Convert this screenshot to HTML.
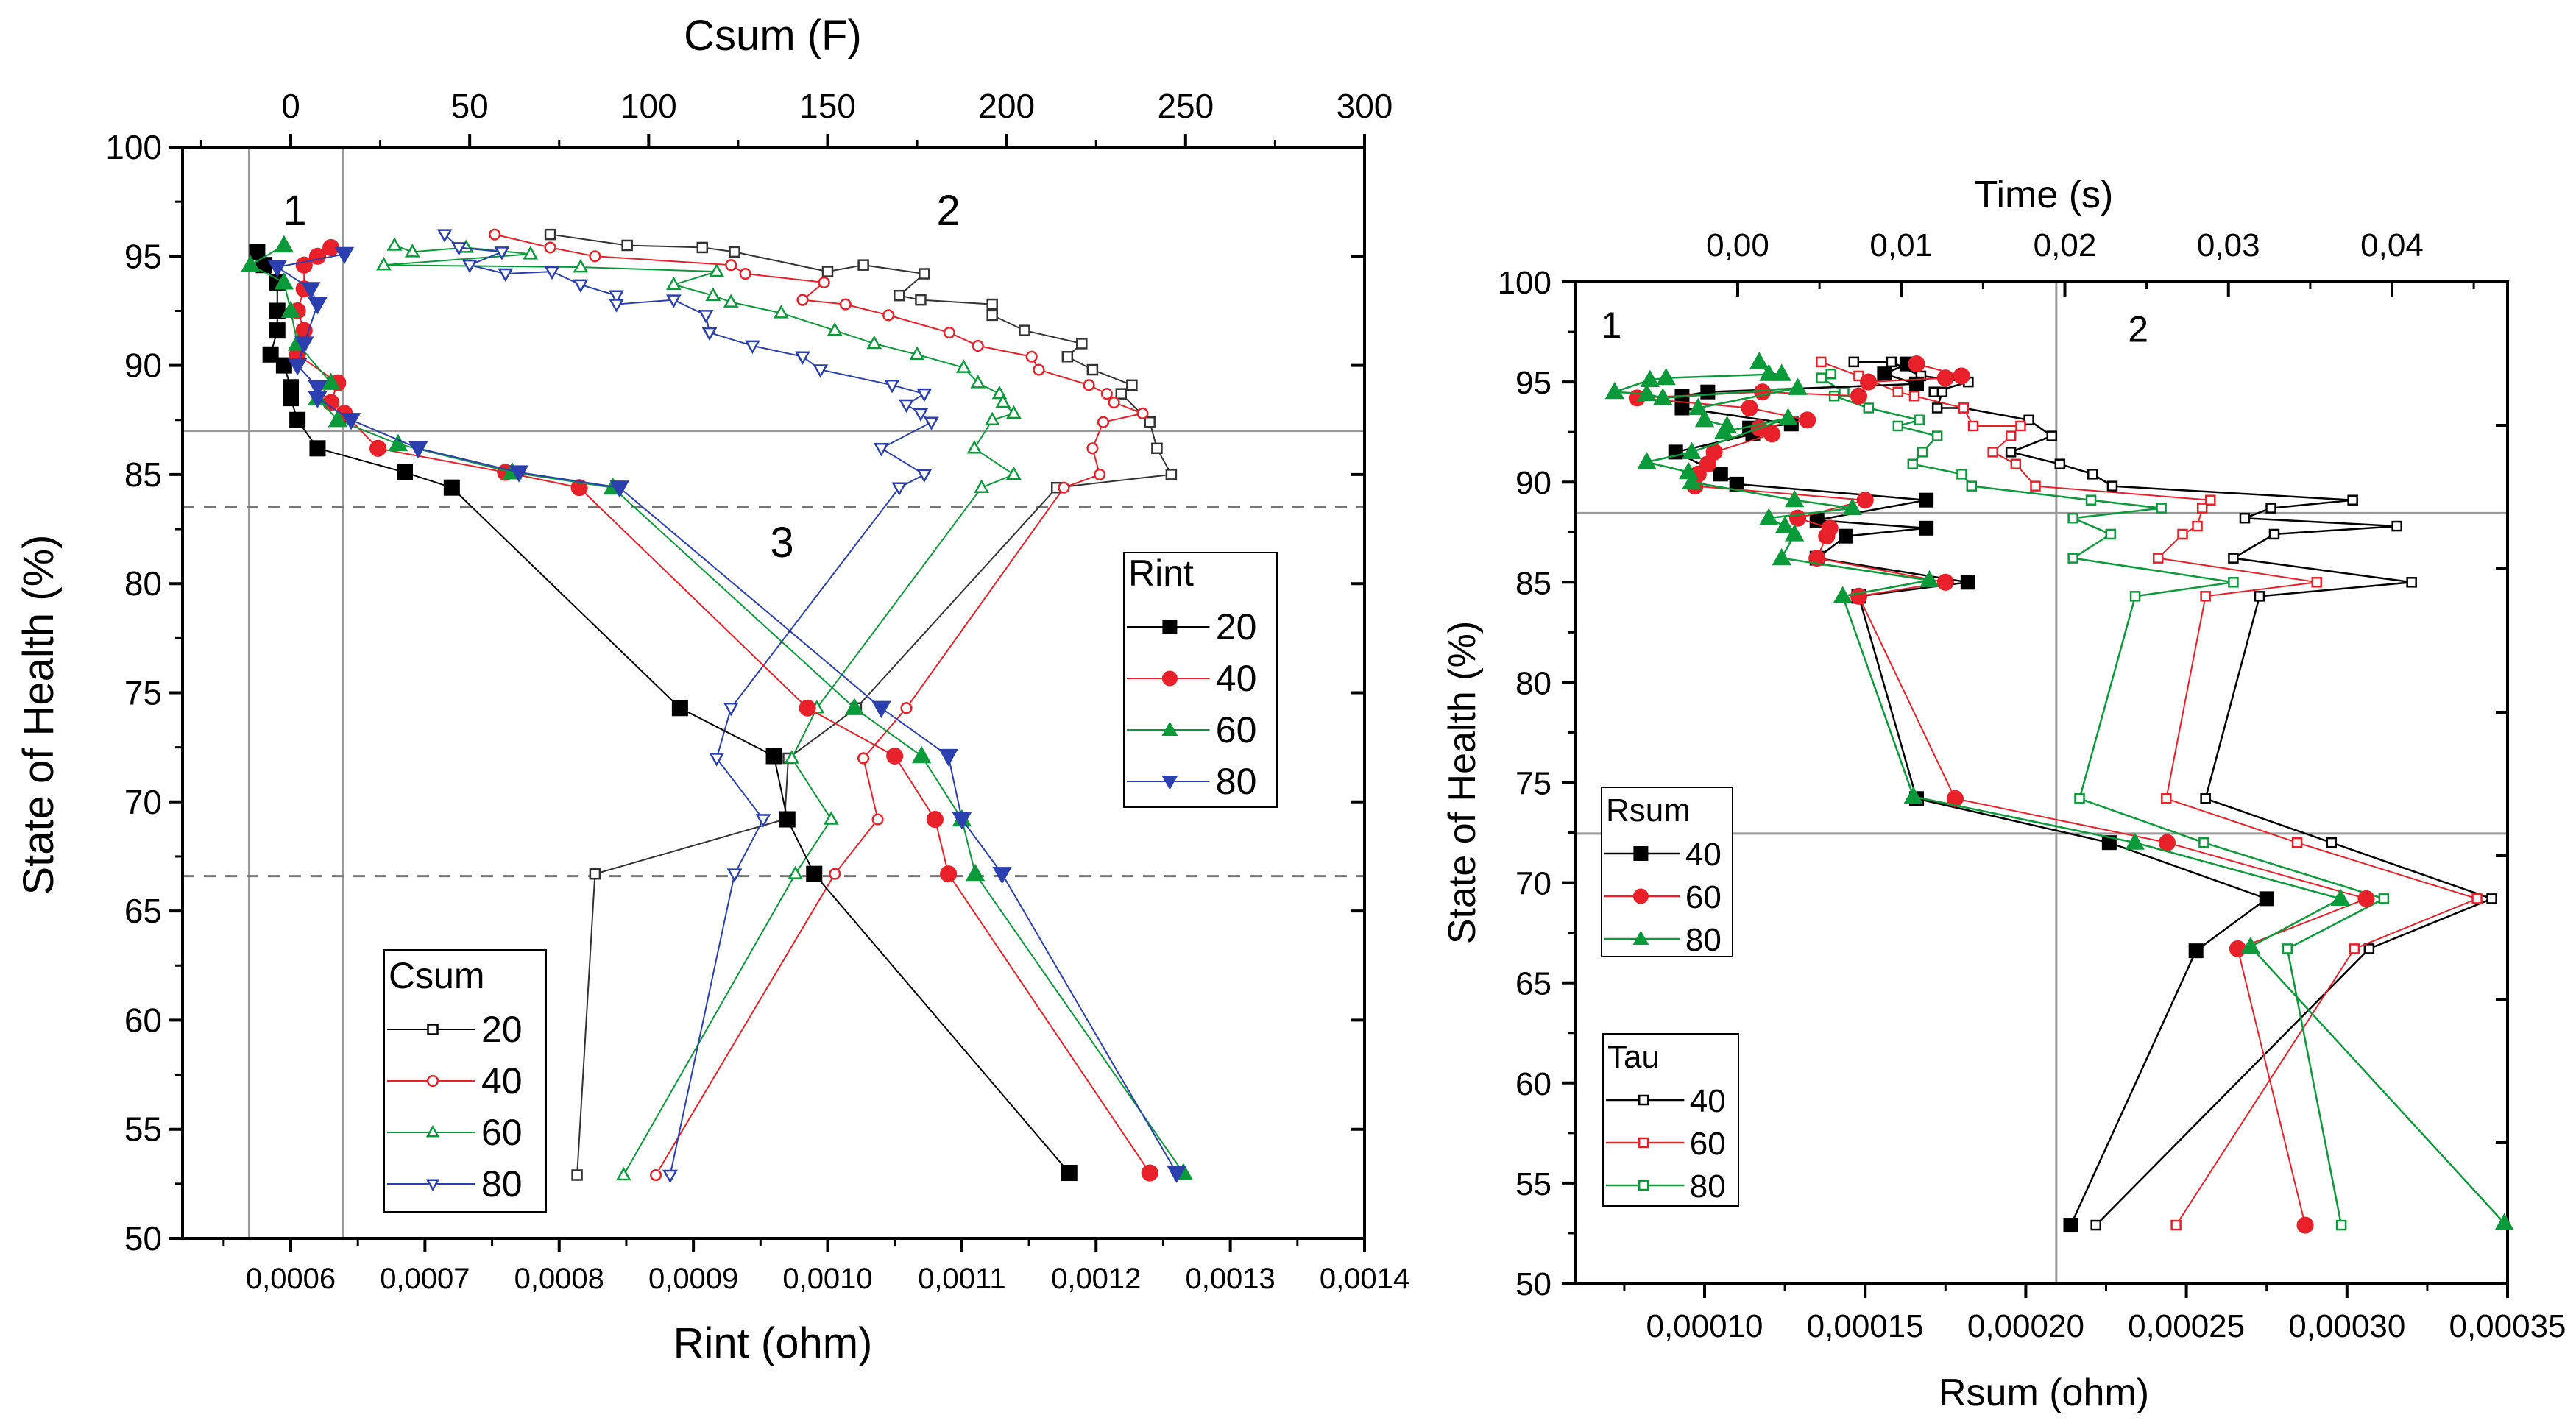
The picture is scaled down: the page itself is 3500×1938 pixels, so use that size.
<!DOCTYPE html>
<html><head><meta charset="utf-8">
<style>
html,body{margin:0;padding:0;background:#fff;}
svg{display:block;font-family:"Liberation Sans",Arial,sans-serif;}
</style></head>
<body>
<svg id="fig" width="3500" height="1938" viewBox="0 0 3500 1938" xmlns="http://www.w3.org/2000/svg">
<rect width="3500" height="1938" fill="#fff"/>
<g id="left"></g>
<g id="right"></g>
</svg>
<script>
// ---------- LEFT CHART DATA ----------
const leftYTicks = [50,55,60,65,70,75,80,85,90,95,100];
const leftXTicks = [0.0006,0.0007,0.0008,0.0009,0.0010,0.0011,0.0012,0.0013,0.0014];
const leftXTickLabels = ["0,0006","0,0007","0,0008","0,0009","0,0010","0,0011","0,0012","0,0013","0,0014"];
const leftTopTicks = [0,50,100,150,200,250,300];
const rint20Soh = [95.2,94.6,93.8,92.5,91.6,90.5,90,89,88.5,87.5,86.2,85.1,84.4,74.3,72.1,69.2,66.7,53];
const rint20Val = [0.000575,0.00058,0.00059,0.00059,0.00059,0.000585,0.000595,0.0006,0.0006,0.000605,0.00062,0.000685,0.00072,0.00089,0.00096,0.00097,0.00099,0.00118];
const rint40Soh = [95.4,95,94.6,93.5,92.5,91.6,90.5,89.2,88.3,87.8,86.2,85.1,84.4,74.3,72.1,69.2,66.7,53];
const rint40Val = [0.00063,0.00062,0.00061,0.00061,0.000605,0.00061,0.000605,0.000635,0.00063,0.00064,0.000665,0.00076,0.000815,0.000985,0.00105,0.00108,0.00109,0.00124];
const rint60Soh = [95.5,94.6,93.8,92.5,91,89.2,88.5,87.5,86.4,85.1,84.4,74.3,72.1,69.2,66.7,53];
const rint60Val = [0.000595,0.00057,0.000595,0.0006,0.000605,0.00063,0.00062,0.000635,0.00068,0.000765,0.00084,0.00102,0.00107,0.0011,0.00111,0.001265];
const rint80Soh = [95.1,94.5,93.5,92.8,91,90,89,88.5,87.5,86.2,85.1,84.4,74.3,72.1,69.2,66.7,53];
const rint80Val = [0.00064,0.00059,0.000615,0.00062,0.00061,0.000605,0.00062,0.00062,0.000645,0.000695,0.00077,0.000845,0.00104,0.00109,0.0011,0.00113,0.00126];
const csum20Soh = [96,95.5,95.4,95.2,94.3,94.6,94.2,93.2,93,92.8,92.3,91.6,91,90.4,89.8,89.1,88.7,87.4,86.2,85,84.4,74.3,72,69.2,66.7,52.9];
const csum20Val = [72.5,94,115,124,150,160,177,170,176,196,196,205,221,217,224,235,232,240,242,246,214,158,139,138,85,80];
const csum40Soh = [96,95.4,95,94.6,94.2,93.8,93,92.8,92.3,91.5,90.9,90.4,89.8,89.1,88.7,88.3,87.8,87.4,86.2,85,84.4,74.3,72,69.2,66.7,52.9];
const csum40Val = [57,72.5,85,123,127,149,143,155,167,184,192,207,209,223,228,230,238,227,224,226,216,172,160,164,152,102];
const csum60Soh = [95.5,95.2,95.4,95.1,94.6,94.5,94.3,93.7,93.2,92.9,92.4,91.6,91,90.5,89.9,89.2,88.7,88.3,87.8,87.5,86.2,85,84.4,74.3,72,69.2,66.7,52.9];
const csum60Val = [29,34,49,67,26,81,119,107,118,123,137,152,163,175,188,192,198,199,202,196,191,202,193,147,140,151,141,93];
const csum80Soh = [96,95.4,95.2,94.6,94.2,94.3,93.7,93.2,92.8,93,92.3,91.5,90.9,90.4,89.8,89.1,88.7,88.2,87.8,87.4,86.2,85,84.4,74.3,72,69.2,66.7,52.9];
const csum80Val = [43,47,59,50,60,73,81,91,91,107,116,117,129,143,148,168,177,172,176,179,165,177,170,123,119,132,124,106];

// ---------- RIGHT CHART DATA ----------
const rightYTicks = [50,55,60,65,70,75,80,85,90,95,100];
const rightXTicks = [0.0001,0.00015,0.0002,0.00025,0.0003,0.00035];
const rightXTickLabels = ["0,00010","0,00015","0,00020","0,00025","0,00030","0,00035"];
const rightTopTicks = [0,0.01,0.02,0.03,0.04];
const rightTopTickLabels = ["0,00","0,01","0,02","0,03","0,04"];
const rsum40Soh = [95.9,95.4,94.9,94.5,94.3,93.7,92.9,92.7,92.4,91.5,90.4,89.9,89.1,88.1,87.7,87.3,86.2,85,84.3,74.2,72,69.2,66.6,52.9];
const rsum40Val = [0.000163,0.000156,0.000166,0.000101,0.000093,0.000093,0.000127,0.000114,0.000115,0.000091,0.000105,0.00011,0.000169,0.000135,0.000169,0.000144,0.000135,0.000182,0.000148,0.000166,0.000226,0.000275,0.000253,0.000214];
const rsum60Soh = [95.9,95.3,95.2,95,94.3,94.5,94.2,93.7,93.1,92.7,92.4,91.5,90.9,90.4,89.8,89.1,88.2,87.7,87.3,86.2,85,84.3,74.2,72,69.2,66.7,52.9];
const rsum60Val = [0.000166,0.00018,0.000175,0.000151,0.000148,0.000118,0.000079,0.000114,0.000132,0.000117,0.000121,0.000103,0.000101,0.000098,0.000097,0.00015,0.000129,0.000139,0.000138,0.000135,0.000175,0.000148,0.000178,0.000244,0.000306,0.000266,0.000287];
const rsum80Soh = [96,95.4,95.4,95.2,95.1,94.5,94.4,94.2,94.7,93.7,93.1,92.8,92.5,93.2,91.5,91,90.5,90,89.1,88.7,88.2,87.8,87.4,86.2,85.1,84.3,74.3,72,69.2,66.8,53];
const rsum80Val = [0.000117,0.00012,0.000124,0.000088,0.000083,0.000072,0.000082,0.000087,0.000129,0.000098,0.0001,0.000107,0.000106,0.000126,0.000096,0.000082,0.000095,0.000096,0.000128,0.000146,0.00012,0.000125,0.000128,0.000124,0.00017,0.000143,0.000165,0.000234,0.000298,0.00027,0.000349];
const tau40Soh = [96,96,95.3,95,94.5,94.5,93.7,93.7,93.1,92.3,91.5,90.9,90.4,89.8,89.1,88.7,88.2,87.8,87.4,86.2,85,84.3,74.2,72,69.2,66.7,52.9];
const tau40Val = [0.0071,0.0094,0.0112,0.0141,0.012,0.0125,0.0122,0.0138,0.0178,0.0192,0.0167,0.0197,0.0217,0.0229,0.0376,0.0326,0.031,0.0403,0.0328,0.0303,0.0412,0.0319,0.0286,0.0363,0.0461,0.0386,0.0219];
const tau60Soh = [96,95.3,94.5,94.3,93.7,92.8,92.8,92.3,91.5,90.9,89.8,89.1,88.7,87.8,87.4,86.2,85,84.3,74.2,72,69.2,66.7,52.9];
const tau60Val = [0.0051,0.0074,0.0098,0.0108,0.0138,0.0144,0.0173,0.0167,0.0156,0.017,0.0182,0.0289,0.0284,0.0281,0.0272,0.0257,0.0354,0.0286,0.0262,0.0342,0.0452,0.0377,0.0268];
const tau80Soh = [95.4,95.2,94.5,94.3,93.7,93.1,92.8,92.3,91.5,90.9,90.4,89.8,89.1,88.7,88.2,87.4,86.2,85,84.3,74.2,72,69.2,66.7,52.9];
const tau80Val = [0.0057,0.0051,0.0065,0.0059,0.008,0.0111,0.0098,0.0122,0.0113,0.0107,0.0137,0.0143,0.0216,0.0259,0.0205,0.0228,0.0205,0.0303,0.0243,0.0209,0.0285,0.0395,0.0336,0.0369];

const NS = "http://www.w3.org/2000/svg";
const BLACK="#000", RED="#e8202a", GREEN="#0a9a3a", BLUE="#2b3fae";
function el(parent, tag, attrs, text){
  const e=document.createElementNS(NS,tag);
  for(const k in attrs) e.setAttribute(k,attrs[k]);
  if(text!==undefined) e.textContent=text;
  parent.appendChild(e); return e;
}
function lin(d0,d1,r0,r1){return v=>r0+(v-d0)/(d1-d0)*(r1-r0);}
function marker(g,shape,x,y,s,color,filled){
  const fill=filled?color:"#fff", sw=filled?0:2.5;
  const h=s/2; let m;
  if(shape==="sq") m=el(g,"rect",{x:x-h,y:y-h,width:s,height:s,fill:fill,stroke:color,"stroke-width":sw});
  else if(shape==="ci") m=el(g,"circle",{cx:x,cy:y,r:h*1.05,fill:fill,stroke:color,"stroke-width":sw});
  else if(shape==="tu") m=el(g,"polygon",{points:`${x},${y-h*1.15} ${x-h*1.1},${y+h*0.8} ${x+h*1.1},${y+h*0.8}`,fill:fill,stroke:color,"stroke-width":sw});
  else m=el(g,"polygon",{points:`${x},${y+h*1.15} ${x-h*1.1},${y-h*0.8} ${x+h*1.1},${y-h*0.8}`,fill:fill,stroke:color,"stroke-width":sw});
  return m;
}
function series(g,name,xs,ys,fx,fy,color,shape,size,filled,lw){
  const sg=el(g,"g",{});
  
  
  const pts=xs.map((v,i)=>fx(v).toFixed(1)+","+fy(ys[i]).toFixed(1)).join(" ");
  el(sg,"polyline",{points:pts,fill:"none",stroke:color,"stroke-width":lw});
  xs.forEach((v,i)=>{
    const m=marker(sg,shape,fx(v),fy(ys[i]),size,color,filled);
    
    
  });
}

// ================= LEFT =================
(function(){
  const g=document.getElementById("left");
  const L=248,R=1854,T=200,B=1683;
  const fx=lin(0.0006,0.0014,395,1854);
  const fc=lin(0,300,395,1854);
  const fy=lin(50,100,B,T);
  const ax=el(g,"g",{});
  
  
  el(ax,"line",{x1:fx(0.000569),x2:fx(0.000569),y1:T,y2:B,stroke:"#999","stroke-width":3});
  el(ax,"line",{x1:fx(0.000639),x2:fx(0.000639),y1:T,y2:B,stroke:"#999","stroke-width":3});
  el(ax,"line",{x1:L,x2:R,y1:fy(87),y2:fy(87),stroke:"#999","stroke-width":3});
  el(ax,"line",{x1:L,x2:R,y1:fy(83.5),y2:fy(83.5),stroke:"#777","stroke-width":3,"stroke-dasharray":"16,13"});
  el(ax,"line",{x1:L,x2:R,y1:fy(66.6),y2:fy(66.6),stroke:"#777","stroke-width":3,"stroke-dasharray":"16,13"});
  el(ax,"rect",{x:L,y:T,width:R-L,height:B-T,fill:"none",stroke:"#000","stroke-width":4});
  leftYTicks.forEach(v=>{
    el(ax,"line",{x1:L-18,x2:L,y1:fy(v),y2:fy(v),stroke:"#000","stroke-width":4});
    el(ax,"line",{x1:R-18,x2:R,y1:fy(v),y2:fy(v),stroke:"#000","stroke-width":4});
    el(ax,"text",{x:L-28,y:fy(v)+16,"text-anchor":"end","font-size":46},String(v));
    if(v<100){el(ax,"line",{x1:L-10,x2:L,y1:fy(v+2.5),y2:fy(v+2.5),stroke:"#000","stroke-width":3});}
  });
  leftXTicks.forEach((v,i)=>{
    el(ax,"line",{x1:fx(v),x2:fx(v),y1:B,y2:B+18,stroke:"#000","stroke-width":4});
    el(ax,"line",{x1:fx(v-0.00005),x2:fx(v-0.00005),y1:B,y2:B+10,stroke:"#000","stroke-width":3});
    el(ax,"text",{x:fx(v),y:B+68,"text-anchor":"middle","font-size":40},leftXTickLabels[i]);
  });
  leftTopTicks.forEach(v=>{
    el(ax,"line",{x1:fc(v),x2:fc(v),y1:T,y2:T-18,stroke:"#000","stroke-width":4});
    el(ax,"line",{x1:fc(v-25),x2:fc(v-25),y1:T,y2:T-10,stroke:"#000","stroke-width":3});
    el(ax,"text",{x:fc(v),y:T-40,"text-anchor":"middle","font-size":46},String(v));
  });
  const t1=el(g,"text",{x:1050,y:1845,"text-anchor":"middle","font-size":58},"Rint (ohm)");
  
  const t2=el(g,"text",{x:1050,y:68,"text-anchor":"middle","font-size":58},"Csum (F)");
  
  const t3=el(g,"text",{x:0,y:0,"text-anchor":"middle","font-size":58,transform:`translate(72,${(T+B)/2+30}) rotate(-90)`},"State of Health (%)");
  
  [["1",0.000603,97.1],["2",0.00109,97.1],["3",0.000966,81.9]].forEach(r=>{
    const t=el(g,"text",{x:fx(r[1]),y:fy(r[2])+20,"text-anchor":"middle","font-size":58},r[0]);
    
  });
  series(g,"csum-20",csum20Val,csum20Soh,fc,fy,"#333","sq",13,false,2);
  series(g,"csum-40",csum40Val,csum40Soh,fc,fy,RED,"ci",13,false,2);
  series(g,"csum-60",csum60Val,csum60Soh,fc,fy,GREEN,"tu",15,false,2);
  series(g,"csum-80",csum80Val,csum80Soh,fc,fy,BLUE,"td",15,false,2);
  series(g,"rint-20",rint20Val,rint20Soh,fx,fy,BLACK,"sq",22,true,2);
  series(g,"rint-40",rint40Val,rint40Soh,fx,fy,RED,"ci",22,true,2);
  series(g,"rint-60",rint60Val,rint60Soh,fx,fy,GREEN,"tu",24,true,2);
  series(g,"rint-80",rint80Val,rint80Soh,fx,fy,BLUE,"td",24,true,2);
  function legend(x,y,w,h,title,items,filled,size,fs,rowH,dy){
    const lg=el(g,"g",{});
    
    
    el(lg,"rect",{x:x,y:y,width:w,height:h,fill:"#fff",stroke:"#000","stroke-width":2});
    el(lg,"text",{x:x+6,y:y+dy,"font-size":fs},title);
    items.forEach((it,i)=>{
      const yy=y+dy+rowH*(i+1)-14;
      const ig=el(lg,"g",{});
      
      
      el(ig,"line",{x1:x+4,x2:x+w*0.56,y1:yy,y2:yy,stroke:it[1],"stroke-width":2});
      marker(ig,it[2],x+w*0.3,yy,size,it[1],filled);
      el(ig,"text",{x:x+w*0.6,y:yy+17,"font-size":fs},it[0]);
    });
  }
  const items=[["20",BLACK,"sq"],["40",RED,"ci"],["60",GREEN,"tu"],["80",BLUE,"td"]];
  legend(1527,751,208,346,"Rint",items,true,20,50,70,45);
  legend(522,1291,220,356,"Csum",items,false,13,50,70,52);
})();

// ================= RIGHT =================
(function(){
  const g=document.getElementById("right");
  const L=2140,R=3407,T=383,B=1744;
  const fx=lin(0.0001,0.00035,2316,3407);
  const ft=lin(0,0.04,2361,3250);
  const fy=lin(50,100,B,T);
  const ax=el(g,"g",{});
  
  
  el(ax,"line",{x1:fx(0.0002095),x2:fx(0.0002095),y1:T,y2:B,stroke:"#999","stroke-width":3});
  el(ax,"line",{x1:L,x2:R,y1:fy(88.45),y2:fy(88.45),stroke:"#999","stroke-width":3});
  el(ax,"line",{x1:L,x2:R,y1:fy(72.45),y2:fy(72.45),stroke:"#999","stroke-width":3});
  el(ax,"rect",{x:L,y:T,width:R-L,height:B-T,fill:"none",stroke:"#000","stroke-width":4});
  rightYTicks.forEach(v=>{
    el(ax,"line",{x1:L-18,x2:L,y1:fy(v),y2:fy(v),stroke:"#000","stroke-width":4});
    el(ax,"text",{x:L-32,y:fy(v)+16,"text-anchor":"end","font-size":44},String(v));
    if(v<100) el(ax,"line",{x1:L-9,x2:L,y1:fy(v+2.5),y2:fy(v+2.5),stroke:"#000","stroke-width":3});
  });
  for(let k=0;k<7;k++){const yy=T+(k+1)*195;if(yy<B)el(ax,"line",{x1:R-16,x2:R,y1:yy,y2:yy,stroke:"#000","stroke-width":4});}
  rightXTicks.forEach((v,i)=>{
    el(ax,"line",{x1:fx(v),x2:fx(v),y1:B,y2:B+20,stroke:"#000","stroke-width":4});
    el(ax,"line",{x1:fx(v-0.000025),x2:fx(v-0.000025),y1:B,y2:B+10,stroke:"#000","stroke-width":3});
    el(ax,"text",{x:fx(v),y:B+73,"text-anchor":"middle","font-size":44},rightXTickLabels[i]);
  });
  rightTopTicks.forEach((v,i)=>{
    el(ax,"line",{x1:ft(v),x2:ft(v),y1:T,y2:T+20,stroke:"#000","stroke-width":4});
    el(ax,"line",{x1:ft(v+0.005),x2:ft(v+0.005),y1:T,y2:T+10,stroke:"#000","stroke-width":3});
    el(ax,"text",{x:ft(v),y:T-35,"text-anchor":"middle","font-size":44},rightTopTickLabels[i]);
  });
  const t1=el(g,"text",{x:2777,y:1910,"text-anchor":"middle","font-size":52},"Rsum (ohm)");
  
  const t2=el(g,"text",{x:2777,y:282,"text-anchor":"middle","font-size":52},"Time  (s)");
  
  const t3=el(g,"text",{x:0,y:0,"text-anchor":"middle","font-size":52,transform:`translate(2004,${(T+B)/2}) rotate(-90)`},"State of Health (%)");
  
  [["1",0.000071,97.9],["2",0.000235,97.7]].forEach(r=>{
    const t=el(g,"text",{x:fx(r[1]),y:fy(r[2])+19,"text-anchor":"middle","font-size":50},r[0]);
    
  });
  series(g,"tau-40",tau40Val,tau40Soh,ft,fy,BLACK,"sq",12,false,2.5);
  series(g,"tau-60",tau60Val,tau60Soh,ft,fy,RED,"sq",12,false,2);
  series(g,"tau-80",tau80Val,tau80Soh,ft,fy,GREEN,"sq",12,false,2.5);
  series(g,"rsum-40",rsum40Val,rsum40Soh,fx,fy,BLACK,"sq",20,true,2.5);
  series(g,"rsum-60",rsum60Val,rsum60Soh,fx,fy,RED,"ci",22,true,2);
  series(g,"rsum-80",rsum80Val,rsum80Soh,fx,fy,GREEN,"tu",24,true,2.5);
  function legend(x,y,w,h,title,items,size,rowH){
    const lg=el(g,"g",{});
    
    
    el(lg,"rect",{x:x,y:y,width:w,height:h,fill:"#fff",stroke:"#000","stroke-width":2});
    el(lg,"text",{x:x+6,y:y+46,"font-size":44},title);
    items.forEach((it,i)=>{
      const yy=y+46+rowH*(i+1)-14;
      const ig=el(lg,"g",{});
      
      
      el(ig,"line",{x1:x+4,x2:x+w*0.6,y1:yy,y2:yy,stroke:it[1],"stroke-width":2.5});
      marker(ig,it[2],x+w*0.3,yy,size,it[1],it[3]);
      el(ig,"text",{x:x+w*0.64,y:yy+16,"font-size":44},it[0]);
    });
  }
  legend(2176,1070,178,230,"Rsum",[["40",BLACK,"sq",true],["60",RED,"ci",true],["80",GREEN,"tu",true]],20,58);
  legend(2178,1405,184,234,"Tau",[["40",BLACK,"sq",false],["60",RED,"sq",false],["80",GREEN,"sq",false]],12,58);
})();
</script>
</body></html>
